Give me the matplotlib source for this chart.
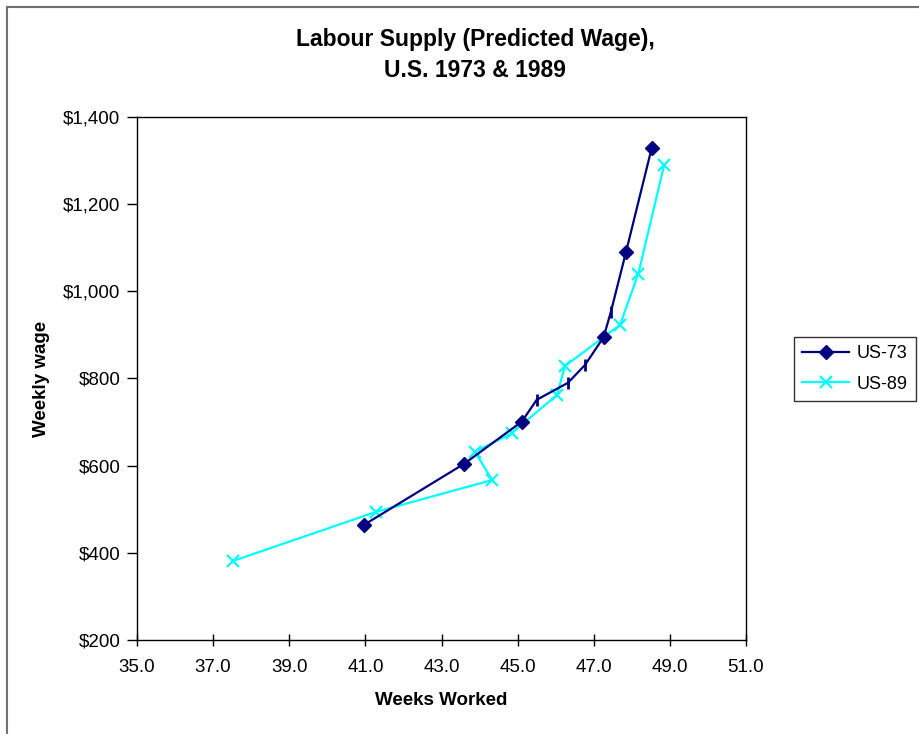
import matplotlib
matplotlib.use("Agg")
import matplotlib.pyplot as plt
from matplotlib.lines import Line2D
from matplotlib.ticker import FuncFormatter

plt.rcParams['font.family'] = ['Liberation Sans', 'DejaVu Sans']

# weeks worked vs predicted weekly wage
us73_weeks = [40.96, 43.59, 45.11, 45.50, 46.32, 46.77, 47.26, 47.45, 47.85, 48.52]
us73_wage = [464, 604, 701, 751, 790, 831, 895, 953, 1091, 1328]
us73_diamonds = [0, 1, 2, 6, 8, 9]
us73_ticks = [3, 4, 5, 7]

us89_weeks = [37.51, 41.28, 44.33, 43.88, 44.84, 46.03, 46.25, 47.69, 48.17, 48.85]
us89_wage = [381, 494, 567, 632, 674, 762, 829, 923, 1040, 1290]

x_ticks = [35, 37, 39, 41, 43, 45, 47, 49, 51]
y_ticks = [200, 400, 600, 800, 1000, 1200, 1400]

W, H = 920, 734
fig = plt.figure(figsize=(W / 100, H / 100), dpi=100)
ax = fig.add_axes([137 / W, 1 - 640 / H, (746 - 137) / W, (640 - 117) / H])

navy = '#000080'
cyan = '#00FFFF'

ax.plot(us73_weeks, us73_wage, color=navy, lw=1.6, marker='D', ms=7,
        markevery=us73_diamonds, label='US-73', zorder=3)
ax.plot([us73_weeks[i] for i in us73_ticks], [us73_wage[i] for i in us73_ticks],
        ls='none', marker='|', ms=8, mew=2, color=navy, zorder=3)
ax.plot(us89_weeks, us89_wage, color=cyan, lw=1.6, marker='x', ms=9, mew=1.6,
        label='US-89', zorder=2)

ax.set_xlim(35, 51)
ax.set_ylim(200, 1400)
ax.set_xticks(x_ticks)
ax.set_yticks(y_ticks)
ax.xaxis.set_major_formatter(FuncFormatter(lambda v, p: f'{v:.1f}'))
ax.yaxis.set_major_formatter(FuncFormatter(lambda v, p: f'${v:,.0f}'))
ax.tick_params(axis='x', direction='inout', length=9, width=1, labelsize=13.5, pad=9)
ax.tick_params(axis='y', direction='out', length=7, width=1, labelsize=13.5, pad=5)
for s in ax.spines.values():
    s.set_linewidth(1)
    s.set_color('black')

ax.set_xlabel('Weeks Worked', fontsize=13.5, fontweight='bold', labelpad=12)
ax.set_ylabel('Weekly wage', fontsize=13.5, fontweight='bold', labelpad=9)

fig.text(475 / W, 1 - 55 / H, 'Labour Supply (Predicted Wage),\nU.S. 1973 & 1989',
         ha='center', va='center', fontsize=16.5, fontweight='bold', linespacing=1.4)

leg = fig.legend(loc='center', bbox_to_anchor=(855 / W, 1 - 369 / H), fontsize=13,
                 frameon=True, fancybox=False, edgecolor='black', handlelength=2.6,
                 borderpad=0.45, labelspacing=0.75, handletextpad=0.4)
leg.get_frame().set_linewidth(1)

# outer chart frame (top and left edges)
fig.add_artist(Line2D([7 / W, 1], [1 - 7 / H, 1 - 7 / H], color='#707070', lw=1.5,
                      transform=fig.transFigure))
fig.add_artist(Line2D([7 / W, 7 / W], [0, 1 - 7 / H], color='#707070', lw=1.5,
                      transform=fig.transFigure))

fig.savefig('out.png', dpi=100)
